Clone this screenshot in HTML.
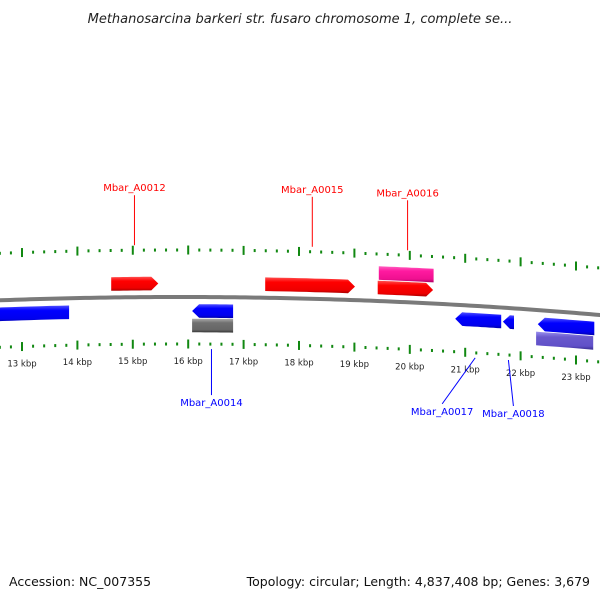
<!DOCTYPE html>
<html><head><meta charset="utf-8"><style>
html,body{margin:0;padding:0;background:#fff;}
svg{display:block;font-family:"DejaVu Sans","Liberation Sans",sans-serif;}
</style></head><body>
<svg id="chart" width="600" height="600" viewBox="0 0 600 600" xmlns="http://www.w3.org/2000/svg">
<defs>
<linearGradient id="g-red" x1="0" y1="0" x2="0" y2="1"><stop offset="0" stop-color="#ff5050"/><stop offset="0.3" stop-color="#ff0000"/><stop offset="0.8" stop-color="#ee0000"/><stop offset="1" stop-color="#aa0000"/></linearGradient>
<linearGradient id="g-blue" x1="0" y1="0" x2="0" y2="1"><stop offset="0" stop-color="#5050ff"/><stop offset="0.3" stop-color="#0000ff"/><stop offset="0.8" stop-color="#0000ee"/><stop offset="1" stop-color="#0000aa"/></linearGradient>
<linearGradient id="g-pink" x1="0" y1="0" x2="0" y2="1"><stop offset="0" stop-color="#ff60c0"/><stop offset="0.3" stop-color="#ff1aa0"/><stop offset="0.8" stop-color="#ee1090"/><stop offset="1" stop-color="#aa0060"/></linearGradient>
<linearGradient id="g-gray" x1="0" y1="0" x2="0" y2="1"><stop offset="0" stop-color="#aaaaaa"/><stop offset="0.3" stop-color="#707070"/><stop offset="0.8" stop-color="#666666"/><stop offset="1" stop-color="#333333"/></linearGradient>
<linearGradient id="g-purple" x1="0" y1="0" x2="0" y2="1"><stop offset="0" stop-color="#9a90f0"/><stop offset="0.3" stop-color="#6a5acd"/><stop offset="0.8" stop-color="#6050c8"/><stop offset="1" stop-color="#3a2e90"/></linearGradient>
<linearGradient id="g-back" x1="0" y1="0" x2="0" y2="1"><stop offset="0" stop-color="#bbbbbb"/><stop offset="0.5" stop-color="#777777"/><stop offset="1" stop-color="#555555"/></linearGradient>
</defs>
<text x="300" y="23" text-anchor="middle" font-size="13" font-style="italic" fill="#222">Methanosarcina barkeri str. fusaro chromosome 1, complete se...</text>
<g id="ticks"></g>
<g id="backbone"></g>
<g id="genes"></g>
<g id="labels"></g>
<text x="9" y="586" font-size="12.5" fill="#111">Accession: NC_007355</text>
<text x="590" y="586" text-anchor="end" font-size="12.5" fill="#111">Topology: circular; Length: 4,837,408 bp; Genes: 3,679</text>
</svg>
<script>
const tickKbp = [13,14,15,16,17,18,19,20,21,22,23];
const tickLabels = ["13 kbp","14 kbp","15 kbp","16 kbp","17 kbp","18 kbp","19 kbp","20 kbp","21 kbp","22 kbp","23 kbp"];
const geneNames = ["gene-a0011","Mbar_A0012","Mbar_A0014","gene-a0014-alt","Mbar_A0015","gene-a0016-alt","Mbar_A0016","Mbar_A0017","Mbar_A0018","gene-a0019","gene-a0019-alt"];
const geneStart = [12.0,14.61,16.07,16.07,17.39,19.44,19.42,20.82,21.68,22.31,22.28];
const geneEnd   = [13.85,15.46,16.81,16.81,19.01,20.43,20.42,21.65,21.88,23.33,23.31];
const geneStrand = [-1,1,-1,0,1,0,1,-1,-1,-1,0];
const geneRow = [1,-1,1,2,-1,-2,-1,1,1,1,2];
const geneColor = ["blue","red","blue","gray","red","pink","red","blue","blue","blue","purple"];
const labelNames = ["Mbar_A0012","Mbar_A0015","Mbar_A0016","Mbar_A0014","Mbar_A0017","Mbar_A0018"];
const labelKbp = [15.03,18.24,19.96,16.42,21.18,21.78];
const labelSide = [-1,-1,-1,1,1,1];
const labelShiftX = [0,0,0,0,-33,5];

const NS="http://www.w3.org/2000/svg";
function X(k){return 22+(k-13)*55.4;}
function C(x){return 297+1.02e-4*(x-180)*(x-180);}
function mk(tag,attrs,parent){const e=document.createElementNS(NS,tag);for(const a in attrs)e.setAttribute(a,attrs[a]);parent.appendChild(e);return e;}

// backbone
const bb=document.getElementById('backbone');
let bpts=[];for(let x=-5;x<=605;x+=5)bpts.push(x+","+(C(x)).toFixed(2));
const bl=mk('polyline',{points:bpts.join(' '),fill:'none',stroke:'#7a7a7a','stroke-width':4},bb);



// ticks
const tg=document.getElementById('ticks');
for(let s=12*5;s<=24*5;s++){
  const k=s/5, x=X(k); if(x<-5||x>605)continue;
  const major=(s%5===0);
  [-1,1].forEach(side=>{
    const cy=C(x)+side*47;
    const h=major?9:3;
    const t=mk('rect',{x:x-1,y:cy-h/2,width:2,height:h,fill:'#118811'},tg);
    
    
  });
}
tickKbp.forEach((k,i)=>{
  const x=X(k);
  const t=mk('text',{x:x,y:C(x)+67,'text-anchor':'middle','font-size':'8.5',fill:'#222'},tg);
  t.textContent=tickLabels[i];
  
  
});

// genes
const gg=document.getElementById('genes');
geneNames.forEach((n,i)=>{
  const x0=X(geneStart[i]),x1=X(geneEnd[i]);
  const off=geneRow[i]*13.5+(geneRow[i]>0?0.5:0)+(Math.abs(geneRow[i])===2?geneRow[i]*0.5:0);
  const half=6.8, ah=7;
  let top=[],bot=[];
  let a=x0,b=x1;
  if(geneStrand[i]===1)b=x1-ah;
  if(geneStrand[i]===-1)a=x0+ah;
  for(let t=0;t<=10;t++){const x=a+(b-a)*t/10;const c=C(x)+off;top.push([x,c-half]);bot.push([x,c+half]);}
  let pts=[];
  if(geneStrand[i]===-1)pts.push([x0,C(x0)+off]);
  pts=pts.concat(top);
  if(geneStrand[i]===1)pts.push([x1,C(x1)+off]);
  pts=pts.concat(bot.reverse());
  const p=mk('polygon',{points:pts.map(q=>q[0].toFixed(1)+","+q[1].toFixed(1)).join(' '),fill:'url(#g-'+geneColor[i]+')'},gg);
  
  
});

// labels
const lg=document.getElementById('labels');
labelNames.forEach((n,i)=>{
  const x=X(labelKbp[i]);
  const col=labelSide[i]<0?'#ff0000':'#0000ff';
  const y0=C(x)+labelSide[i]*(labelSide[i]<0?52:52);
  const lx=x+labelShiftX[i];
  const ly=labelSide[i]<0?y0-50:y0+46;
  const l=mk('line',{x1:x,y1:y0,x2:lx,y2:ly,stroke:col,'stroke-width':1},lg);
  
  
  const t=mk('text',{x:lx,y:labelSide[i]<0?ly-4:ly+11,'text-anchor':'middle','font-size':'10',fill:col},lg);
  t.textContent=n;
  
  
});
</script>
</body></html>
